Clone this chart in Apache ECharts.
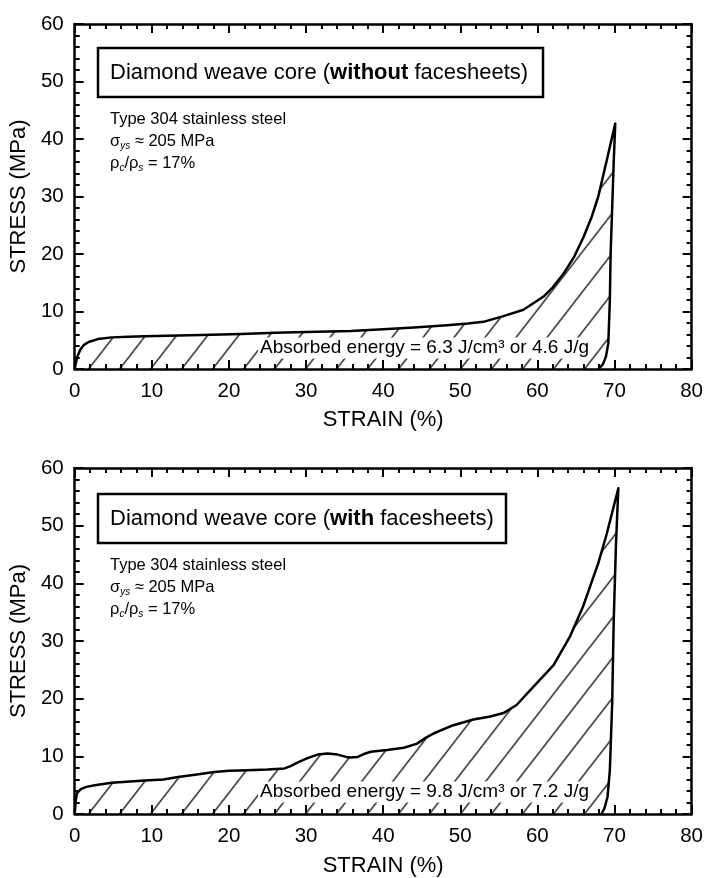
<!DOCTYPE html>
<html>
<head>
<meta charset="utf-8">
<script src="https://cdn.jsdelivr.net/npm/echarts@6/dist/echarts.min.js"></script>
<style>
html, body { margin: 0; padding: 0; background: #fff; }
#main { width: 706px; height: 878px; }
</style>
</head>
<body>
<div id="main"></div>
<script>
// 上图：无面板 (without facesheets)，先加载曲线再卸载
var strainTop = [0, 0.3, 0.7, 1.2, 1.8, 3, 4.8, 7, 9.1, 12, 16.4, 21.6, 26, 30, 35.8, 40, 44, 48.3, 51, 53,
	55.6, 58.2, 60.8, 62, 63.4, 64.8, 66.0, 67.0, 67.9, 69.0, 70.1,
	69.9, 69.7, 69.5, 69.4, 69.2, 68.9, 68.5, 67.9];
var stressTop = [0, 2.0, 3.3, 4.2, 4.7, 5.2, 5.5, 5.6, 5.7, 5.8, 5.9, 6.1, 6.3, 6.45, 6.6, 6.9, 7.2, 7.6, 7.9, 8.2,
	9.2, 10.3, 12.6, 14.2, 16.6, 19.6, 23.0, 26.3, 30.0, 36.3, 42.7,
	36, 28, 20, 12, 4.5, 2.2, 0.8, 0];

// 下图：有面板 (with facesheets)
var strainBottom = [0, 0.15, 0.3, 0.8, 1.5, 2.6, 4.8, 9.1, 11.5, 13.4, 15.6, 18.1, 20, 22.4, 25, 27.2, 28.0, 29,
	30.2, 31.5, 32.8, 34.1, 35.2, 35.8, 36.7, 37.5, 38.4, 40.5, 42.7, 44.4, 45.5, 46.6, 49.1, 51.7, 53.9,
	55.6, 57.3, 59.5, 62.1, 64.2, 65.9, 67.9, 69.0, 70.5,
	70.2, 69.9, 69.7, 69.4, 69.1, 68.7, 68.3];
var stressBottom = [0, 2.5, 3.6, 4.3, 4.7, 5.0, 5.4, 5.8, 6.0, 6.4, 6.8, 7.3, 7.5, 7.6, 7.7, 7.9, 8.3, 9.0,
	9.7, 10.3, 10.5, 10.3, 9.9, 9.8, 9.9, 10.4, 10.8, 11.1, 11.5, 12.2, 13.2, 14.0, 15.4, 16.4, 16.9,
	17.5, 18.9, 22.1, 25.8, 30.7, 35.9, 43.5, 48.6, 56.5,
	47, 33.6, 19.2, 7.6, 3.0, 1.0, 0];

// 坐标轴范围
var strainRange = [0, 80];
var stressRange = [0, 60];
var strainStep = 10;
var stressStep = 10;

var font = 'Liberation Sans, Arial, sans-serif';

function zip(xs, ys) {
	var out = [];
	for (var i = 0; i < xs.length; i++) {
		out.push([xs[i], ys[i]]);
	}
	return out;
}

// 斜线填充
function hatch(dx) {
	var w = 31, h = 40;
	var c = document.createElement('canvas');
	c.width = w;
	c.height = h;
	var ctx = c.getContext('2d');
	ctx.strokeStyle = '#000';
	ctx.lineWidth = 1.3;
	[[0, 0], [w, 0], [-w, 0], [0, h], [0, -h]].forEach(function (o) {
		ctx.beginPath();
		ctx.moveTo(o[0], h + o[1]);
		ctx.lineTo(w + o[0], o[1]);
		ctx.stroke();
	});
	return { image: c, repeat: 'repeat', x: dx, y: 0 };
}

function xAxisFor(grid, pos, showLabel, nameGap) {
	return {
		gridIndex: grid,
		type: 'value',
		position: pos,
		min: strainRange[0],
		max: strainRange[1],
		interval: strainStep,
		name: showLabel ? 'STRAIN (%)' : '',
		nameLocation: 'middle',
		nameGap: nameGap,
		nameTextStyle: { color: '#000', fontSize: 22, fontFamily: font },
		axisLine: { show: true, onZero: false, lineStyle: { color: '#000', width: 2.5 } },
		axisTick: { show: true, inside: true, length: 9, lineStyle: { color: '#000', width: 2 } },
		minorTick: { show: true, splitNumber: 5, length: 5, lineStyle: { color: '#000', width: 2 } },
		axisLabel: { show: showLabel, margin: 12, color: '#000', fontSize: 20.5, fontFamily: font },
		splitLine: { show: false }
	};
}

function yAxisFor(grid, pos, showLabel) {
	return {
		gridIndex: grid,
		type: 'value',
		position: pos,
		min: stressRange[0],
		max: stressRange[1],
		interval: stressStep,
		name: showLabel ? 'STRESS (MPa)' : '',
		nameLocation: 'middle',
		nameGap: 40,
		nameTextStyle: { color: '#000', fontSize: 22, fontFamily: font },
		axisLine: { show: true, onZero: false, lineStyle: { color: '#000', width: 2.5 } },
		axisTick: { show: true, inside: true, length: 9, lineStyle: { color: '#000', width: 2 } },
		minorTick: { show: true, splitNumber: 5, length: 5, lineStyle: { color: '#000', width: 2 } },
		axisLabel: { show: showLabel, margin: 11, color: '#000', fontSize: 20.5, fontFamily: font },
		splitLine: { show: false }
	};
}

function curve(xi, yi, data, dx) {
	return {
		type: 'line',
		xAxisIndex: xi,
		yAxisIndex: yi,
		data: data,
		symbol: 'none',
		smooth: false,
		lineStyle: { color: '#000', width: 2.5, join: 'round' },
		areaStyle: { color: hatch(dx), opacity: 1 }
	};
}

var subRich = {
	n: { fontSize: 16.5, lineHeight: 20, fontFamily: font, color: '#000' },
	sub: { fontSize: 10, lineHeight: 10, padding: [10, 0, 0, 0], fontStyle: 'italic', verticalAlign: 'bottom', fontFamily: font, color: '#000' }
};

function notes(top, bold, boxW) {
	return [
		{
			type: 'rect', z: 100,
			shape: { x: 98, y: top, width: boxW, height: 49 },
			style: { fill: '#fff', stroke: '#000', lineWidth: 2.5 }
		},
		{
			type: 'text', z: 101, x: 110, y: top + 25,
			style: {
				text: '{a|Diamond weave core (}{b|' + bold + '}{a| facesheets)}',
				verticalAlign: 'middle',
				rich: {
					a: { fontSize: 22, fontFamily: font, color: '#000' },
					b: { fontSize: 22, fontFamily: font, fontWeight: 'bold', color: '#000' }
				}
			}
		},
		{
			type: 'text', z: 101, x: 110, y: top + 71,
			style: { text: 'Type 304 stainless steel', verticalAlign: 'middle', fontSize: 16.5, fontFamily: font, fill: '#000' }
		},
		{
			type: 'text', z: 101, x: 110, y: top + 93,
			style: { text: '{n|σ}{sub|ys}{n| ≈ 205 MPa}', verticalAlign: 'middle', rich: subRich }
		},
		{
			type: 'text', z: 101, x: 110, y: top + 115,
			style: { text: '{n|ρ}{sub|c}{n|/ρ}{sub|s}{n| = 17%}', verticalAlign: 'middle', rich: subRich }
		}
	];
}

function energy(y, txt) {
	return {
		type: 'text', z: 101, x: 258, y: y,
		style: {
			text: txt, verticalAlign: 'middle', fontSize: 19, fontFamily: font, fill: '#000',
			backgroundColor: '#fff', padding: [1, 2, 1, 2]
		}
	};
}

var chart = echarts.init(document.getElementById('main'), null, { renderer: 'canvas' });

chart.setOption({
	animation: false,
	backgroundColor: '#fff',
	textStyle: { fontFamily: font },
	grid: [
		{ left: 73, top: 24, width: 619, height: 345 },
		{ left: 73, top: 468, width: 619, height: 346 }
	],
	xAxis: [
		xAxisFor(0, 'bottom', true, 40),
		xAxisFor(0, 'top', false, 0),
		xAxisFor(1, 'bottom', true, 41),
		xAxisFor(1, 'top', false, 0)
	],
	yAxis: [
		yAxisFor(0, 'left', true),
		yAxisFor(0, 'right', false),
		yAxisFor(1, 'left', true),
		yAxisFor(1, 'right', false)
	],
	series: [
		curve(0, 0, zip(strainTop, stressTop), 2.5),
		curve(2, 2, zip(strainBottom, stressBottom), 6.35)
	],
	graphic: notes(48, 'without', 445)
		.concat(notes(494, 'with', 408))
		.concat([
			energy(348, 'Absorbed energy = 6.3 J/cm³ or 4.6 J/g'),
			energy(792, 'Absorbed energy = 9.8 J/cm³ or 7.2 J/g')
		])
});
</script>
</body>
</html>
